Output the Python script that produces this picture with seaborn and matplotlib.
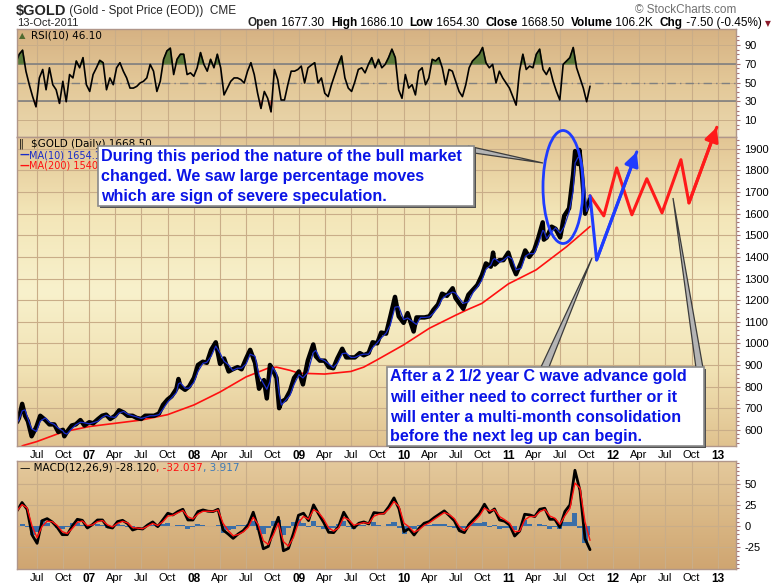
import numpy as np
import pandas as pd
import matplotlib
matplotlib.use("Agg")
import matplotlib.pyplot as plt
import matplotlib.dates as mdates
from matplotlib.colors import LinearSegmentedColormap
from matplotlib.patches import Rectangle, Polygon, Ellipse
import seaborn as sns

# ---- data ----
price_dates = [
    "2006-04-24", "2006-05-01", "2006-05-12", "2006-05-22", "2006-06-01", "2006-06-14",
    "2006-07-01", "2006-07-14", "2006-08-01", "2006-08-15", "2006-09-01", "2006-09-15",
    "2006-10-01", "2006-10-06", "2006-10-15", "2006-11-01", "2006-11-15", "2006-12-01",
    "2006-12-15", "2007-01-01", "2007-01-15", "2007-02-01", "2007-02-15", "2007-03-01",
    "2007-03-15", "2007-04-01", "2007-04-15", "2007-05-01", "2007-05-15", "2007-06-01",
    "2007-06-15", "2007-07-01", "2007-07-15", "2007-08-01", "2007-08-15", "2007-09-01",
    "2007-09-15", "2007-10-01", "2007-10-15", "2007-11-01", "2007-11-08", "2007-11-15",
    "2007-12-01", "2007-12-15", "2008-01-01", "2008-01-15", "2008-02-01", "2008-02-15",
    "2008-03-01", "2008-03-17", "2008-04-01", "2008-04-15", "2008-05-01", "2008-05-15",
    "2008-06-01", "2008-06-15", "2008-07-01", "2008-07-15", "2008-08-01", "2008-08-15",
    "2008-09-01", "2008-09-11", "2008-09-22", "2008-10-01", "2008-10-15", "2008-10-24",
    "2008-11-01", "2008-11-15", "2008-12-01", "2008-12-15", "2009-01-01", "2009-01-15",
    "2009-02-01", "2009-02-20", "2009-03-01", "2009-03-15", "2009-04-01", "2009-04-15",
    "2009-05-01", "2009-05-15", "2009-06-01", "2009-06-15", "2009-07-01", "2009-07-15",
    "2009-08-01", "2009-08-15", "2009-09-01", "2009-09-15", "2009-10-01", "2009-10-15",
    "2009-11-01", "2009-11-15", "2009-12-02", "2009-12-15", "2010-01-01", "2010-01-15",
    "2010-02-05", "2010-02-15", "2010-03-01", "2010-03-15", "2010-04-01", "2010-04-15",
    "2010-05-01", "2010-05-15", "2010-06-01", "2010-06-21", "2010-07-01", "2010-07-28",
    "2010-08-15", "2010-09-01", "2010-09-15", "2010-10-01", "2010-10-15", "2010-11-01",
    "2010-11-09", "2010-11-15", "2010-12-01", "2010-12-15", "2011-01-01", "2011-01-15",
    "2011-01-28", "2011-02-15", "2011-03-01", "2011-03-15", "2011-04-01", "2011-04-15",
    "2011-05-01", "2011-05-05", "2011-05-15", "2011-06-01", "2011-06-15", "2011-07-01",
    "2011-07-15", "2011-08-01", "2011-08-15", "2011-08-22", "2011-09-01", "2011-09-06",
    "2011-09-15", "2011-09-26", "2011-10-01", "2011-10-13",
]
price_close = [
    635, 655, 720, 665, 640, 570,
    615, 665, 645, 625, 625, 590,
    600, 570, 590, 620, 625, 645,
    620, 635, 630, 650, 665, 670,
    650, 665, 690, 680, 665, 665,
    655, 650, 665, 665, 665, 675,
    715, 740, 755, 790, 835, 800,
    785, 800, 840, 900, 915, 910,
    970, 1005, 905, 930, 870, 880,
    890, 880, 930, 970, 910, 790,
    830, 745, 900, 880, 840, 700,
    730, 740, 780, 840, 870, 810,
    920, 995, 940, 920, 920, 890,
    885, 930, 975, 935, 935, 935,
    955, 945, 955, 1005, 1000, 1050,
    1045, 1120, 1215, 1125, 1095, 1140,
    1055, 1120, 1120, 1120, 1125, 1155,
    1180, 1230, 1220, 1255, 1210, 1160,
    1225, 1250, 1270, 1315, 1370, 1355,
    1420, 1365, 1385, 1385, 1420, 1360,
    1320, 1375, 1430, 1400, 1430, 1485,
    1560, 1480, 1490, 1540, 1530, 1490,
    1590, 1625, 1780, 1890, 1830, 1895,
    1780, 1600, 1620, 1668.5,
]

ma200_dates = [
    "2006-04-24", "2006-05-15", "2006-07-01", "2006-10-01", "2007-01-01", "2007-04-01",
    "2007-07-01", "2007-10-01", "2008-01-01", "2008-04-01", "2008-07-01", "2008-09-15",
    "2008-10-15", "2008-12-01", "2009-01-01", "2009-04-01", "2009-07-01", "2009-08-15",
    "2009-10-01", "2010-01-01", "2010-04-01", "2010-07-01", "2010-08-10", "2010-10-01",
    "2011-01-01", "2011-04-08", "2011-07-23", "2011-10-13",
]
ma200_values = [
    510, 527, 545, 590, 615, 630,
    645, 670, 715, 775, 845, 885,
    890, 875, 862, 858, 870, 890,
    924, 993, 1070, 1130, 1155, 1185,
    1275, 1340, 1447, 1540.7,
]

rsi_values = [
    71.1, 80.1, 84.4, 62.1, 47.7, 35.0, 24.2, 54.9, 63.9, 42.3,
    65.7, 47.7, 42.3, 27.8, 51.3, 29.6, 58.5, 54.9, 72.9, 65.7,
    76.5, 47.7, 40.5, 58.5, 65.7, 73.6, 71.1, 42.3, 54.9, 47.7,
    65.7, 71.1, 62.1, 54.9, 44.1, 44.1, 45.9, 49.5, 51.3, 54.9,
    69.3, 62.1, 40.5, 51.3, 74.7, 83.7, 86.6, 58.5, 74.7, 80.1,
    80.1, 58.5, 60.3, 56.7, 65.7, 81.9, 69.3, 62.1, 74.7, 65.7,
    80.1, 65.7, 36.8, 44.1, 51.3, 54.9, 54.9, 53.1, 49.5, 62.1,
    71.1, 58.5, 38.6, 22.4, 40.5, 33.2, 18.8, 63.9, 53.1, 31.4,
    31.4, 47.7, 62.1, 62.1, 63.9, 67.5, 49.5, 65.7, 68.6, 71.1,
    49.5, 54.9, 38.6, 35.0, 47.7, 58.5, 69.3, 78.3, 54.9, 44.1,
    40.5, 51.3, 63.9, 65.7, 60.3, 69.3, 76.5, 65.7, 74.7, 65.7,
    69.3, 76.5, 85.5, 76.5, 42.3, 33.2, 58.5, 44.1, 47.7, 36.8,
    62.1, 65.7, 47.7, 54.9, 74.7, 72.9, 76.5, 65.7, 47.7, 63.9,
    62.1, 51.3, 40.5, 35.0, 47.7, 65.7, 72.9, 76.5, 80.1, 87.3,
    71.1, 65.7, 69.3, 49.5, 62.1, 54.9, 49.5, 44.1, 35.0, 26.0,
    62.1, 80.1, 63.9, 67.5, 65.7, 80.1, 85.5, 63.9, 58.5, 65.7,
    51.3, 40.5, 31.4, 69.3, 72.9, 76.5, 87.3, 65.7, 54.9, 44.1,
    29.6, 46.1,
]

macd_values = [
    17.9, 27.8, 19.8, -10.7, -20.6, 6.3, 8.7, 4.8, -1.6, -10.3,
    -10.3, 0.0, 7.9, 6.7, -2.4, 1.6, 7.1, 7.1, -1.2, -2.4,
    5.2, 6.7, 2.8, -4.8, -2.8, -3.6, 1.2, 4.8, -0.8, 7.1,
    15.1, 13.1, 17.1, 19.8, 7.1, 7.1, 17.1, 19.0, 17.5, 17.1,
    19.8, -4.8, -9.5, -14.7, -9.5, -5.6, 1.2, 16.3, -2.8, -27.0,
    -24.2, -4.8, 10.3, -29.4, -26.6, -8.7, 12.7, 15.1, 6.3, 25.0,
    14.3, 4.4, -7.5, -7.9, -0.4, 16.3, 6.3, -2.4, 3.2, 4.8,
    2.4, 15.9, 15.1, 15.1, 23.0, 33.3, 20.2, -6.7, -3.2, -10.7,
    -2.8, 3.2, 5.2, 9.9, 13.9, 17.9, 12.3, 6.3, -5.6, -7.9,
    2.4, 8.7, 15.1, 25.8, 15.9, 20.2, 7.1, 5.6, 1.2, -11.9,
    -6.0, 13.9, 13.1, 11.1, 19.8, 21.0, 7.9, 7.9, -1.6, 17.1,
    25.0, 66.0, 42.0, -15.0, -28.1,
]

# projected paths drawn by hand on the chart
red_path_dates = ["2011-10-13", "2011-11-30", "2012-01-14", "2012-03-07", "2012-04-28",
                  "2012-06-20", "2012-08-25", "2012-09-22", "2012-12-28"]
red_path_prices = [1683, 1590, 1812, 1595, 1762, 1604, 1850, 1650, 2000]
blue_path_dates = ["2011-10-13", "2011-11-05", "2012-03-24"]
blue_path_prices = [1683, 1386, 1886]

# ---- frames ----
price = pd.DataFrame({"date": pd.to_datetime(price_dates), "close": price_close})
price["ma10"] = price["close"].rolling(2, min_periods=1).mean()
ma200 = pd.DataFrame({"date": pd.to_datetime(ma200_dates), "ma": ma200_values})
rsi = pd.DataFrame({"date": pd.date_range("2006-04-20", "2011-10-13", periods=len(rsi_values)),
                    "rsi": rsi_values})
macd = pd.DataFrame({"date": pd.date_range("2006-04-24", "2011-10-13", periods=len(macd_values)),
                     "macd": macd_values})
macd["signal"] = macd["macd"].ewm(span=2).mean()
macd["hist"] = macd["macd"] - macd["signal"]

sns.set_theme(style="white")
plt.rcParams["font.family"] = ["Liberation Sans", "DejaVu Sans"]
plt.rcParams["axes.unicode_minus"] = False

W, H = 780, 586
fig = plt.figure(figsize=(7.8, 5.86), dpi=100)


def fx(x):
    return x / W


def fy(y):
    return 1 - y / H


L, R = 17, 736
ax_rsi = fig.add_axes([fx(L), fy(137), fx(R) - fx(L), fy(29) - fy(137)])
ax_px = fig.add_axes([fx(L), fy(446), fx(R) - fx(L), fy(137) - fy(446)], sharex=ax_rsi)
ax_macd = fig.add_axes([fx(L), fy(569), fx(R) - fx(L), fy(461) - fy(569)], sharex=ax_rsi)


def gradient(ax, colors):
    cmap = LinearSegmentedColormap.from_list("bg", colors)
    ax.imshow(np.linspace(0, 1, 256).reshape(-1, 1), cmap=cmap, aspect="auto",
              extent=[0, 1, 0, 1], transform=ax.transAxes, zorder=0)


gradient(ax_rsi, ["#d6b283", "#e3c898", "#ead7ad"])
gradient(ax_px, ["#e2c594", "#f3e6b8", "#f8f1cc", "#f1e2b4", "#e0c28f"])
gradient(ax_macd, ["#e4c99c", "#dab886", "#cfa571"])

grid_c = "#c9ad88"
for ax in (ax_rsi, ax_px, ax_macd):
    ax.set_axisbelow(True)
    for s in ax.spines.values():
        s.set_color("#b0968a")
        s.set_linewidth(1.0)
    ax.yaxis.tick_right()
    ax.tick_params(axis="y", which="both", direction="out", colors="#a87070",
                   labelcolor="black", labelsize=8, pad=3, length=3, width=0.8)
    ax.tick_params(axis="y", which="minor", length=2)
    ax.tick_params(axis="x", length=0, labelsize=8, pad=3, labelcolor="black")

# ---- RSI ----
sns.lineplot(data=rsi, x="date", y="rsi", ax=ax_rsi, color="black", linewidth=1.2)
r = rsi["rsi"].to_numpy()
ax_rsi.fill_between(rsi["date"], r, 70, where=r > 70, interpolate=True, color="#5b7a3a", zorder=1.5)
ax_rsi.fill_between(rsi["date"], r, 30, where=r < 30, interpolate=True, color="#c05a50", zorder=1.5)
ax_rsi.axhline(70, color="#808080", lw=1.2, zorder=1)
ax_rsi.axhline(30, color="#808080", lw=1.2, zorder=1)
ax_rsi.axhline(50, color="#808080", lw=1.0, ls=(0, (6, 3, 1, 3)), zorder=1)
ax_rsi.set_ylim(-8, 107)
ax_rsi.set_yticks([10, 30, 50, 70, 90])
ax_rsi.set_yticks(np.arange(0, 101, 5), minor=True)
ax_rsi.grid(True, axis="y", which="major", color=grid_c, lw=0.7)
ax_rsi.grid(True, axis="x", color=grid_c, lw=0.8)
ax_rsi.tick_params(axis="x", labelbottom=False)

# ---- price ----
sns.lineplot(data=ma200, x="date", y="ma", ax=ax_px, color="#ff1010", linewidth=1.2)
sns.lineplot(data=price, x="date", y="close", ax=ax_px, color="black", linewidth=3.2)
sns.lineplot(data=price, x="date", y="ma10", ax=ax_px, color="#1a2cc8", linewidth=0.9)

red_d = mdates.date2num(pd.to_datetime(red_path_dates))
blue_d = mdates.date2num(pd.to_datetime(blue_path_dates))
ax_px.plot(red_d, red_path_prices, color="#ff1a1a", lw=2.2, clip_on=False, zorder=5)
ax_px.plot(blue_d, blue_path_prices, color="#1f3cff", lw=2.2, clip_on=False, zorder=5)
for d, p, c in ((red_d, red_path_prices, "#ff1a1a"), (blue_d, blue_path_prices, "#1f3cff")):
    ax_px.annotate("", xy=(d[-1], p[-1]), xytext=(d[-2], p[-2]), annotation_clip=False,
                   arrowprops=dict(arrowstyle="-|>,head_length=0.7,head_width=0.35",
                                   color=c, lw=2.2, shrinkA=0, shrinkB=0), zorder=6)

ax_px.set_ylim(525, 1955)
ax_px.set_yticks(np.arange(600, 1901, 100))
ax_px.set_yticks(np.arange(540, 1951, 20), minor=True)
ax_px.grid(True, axis="both", which="major", color=grid_c, lw=0.8)

# ---- MACD ----
ax_macd.fill_between(macd["date"], macd["hist"], 0, step="mid", color="#3a6ea8", lw=0, zorder=1.5)
sns.lineplot(data=macd, x="date", y="macd", ax=ax_macd, color="black", linewidth=2.0)
sns.lineplot(data=macd, x="date", y="signal", ax=ax_macd, color="#ff1010", linewidth=1.0)
ax_macd.set_ylim(-51, 77)
ax_macd.set_yticks([-25, 0, 25, 50])
ax_macd.set_yticks(np.arange(-50, 76, 5), minor=True)
ax_macd.grid(True, axis="both", which="major", color=grid_c, lw=0.8)

for ax in (ax_rsi, ax_px, ax_macd):
    ax.set_xlabel("")
    ax.set_ylabel("")

# x ticks: quarters, years in bold
qticks = pd.date_range("2006-07-01", "2013-01-01", freq="QS")
qlabels = [d.strftime("%y") if d.month == 1 else d.strftime("%b") for d in qticks]
ax_px.set_xticks(qticks)
ax_px.set_xticklabels(qlabels)
ax_px.set_xlim(pd.Timestamp("2006-04-24"), pd.Timestamp("2013-03-05"))
for ax in (ax_px, ax_macd):
    ax.tick_params(axis="x", labelbottom=True)
    for lab, d in zip(ax.get_xticklabels(), qticks):
        lab.set_fontsize(8)
        if d.month == 1:
            lab.set_fontweight("bold")
            lab.set_fontsize(8.5)

# ---- header ----
t = fig.text(fx(16), fy(11), "$GOLD", fontsize=10.5, fontweight="bold", va="center")
ax_rsi.annotate(" (Gold - Spot Price (EOD))  CME", xy=(1, 0.5), xycoords=t, va="center",
                fontsize=8.5, annotation_clip=False)
fig.text(fx(17), fy(23), "13-Oct-2011", fontsize=8, va="center")
fig.text(fx(736), fy(10), "\u00a9 StockCharts.com", fontsize=8.5, color="#707070",
         ha="right", va="center")

parts = [("Open", "bold", "black"), (" 1677.30  ", "normal", "black"),
         ("High", "bold", "black"), (" 1686.10  ", "normal", "black"),
         ("Low", "bold", "black"), (" 1654.30  ", "normal", "black"),
         ("Close", "bold", "black"), (" 1668.50  ", "normal", "black"),
         ("Volume", "bold", "black"), (" 106.2K  ", "normal", "black"),
         ("Chg", "bold", "black"), (" -7.50 (-0.45%) ", "normal", "black")]
t = fig.text(fx(248), fy(23), parts[0][0], fontsize=8.5, fontweight=parts[0][1], va="center")
for s, w, c in parts[1:]:
    t = ax_rsi.annotate(s, xy=(1, 0), xycoords=t, va="bottom", ha="left", fontsize=8.5,
                        fontweight=w, color=c, annotation_clip=False)
ax_rsi.annotate("\u25bc", xy=(1, 0.1), xycoords=t, va="bottom", ha="left", fontsize=5.5,
                color="#8b1a2b", family="DejaVu Sans", annotation_clip=False)

# ---- panel legends ----
leg = dict(family="DejaVu Sans", fontsize=7.5, va="center")
fig.text(fx(19), fy(36), "\u25b2", color="#4f6b30", fontsize=6, family="DejaVu Sans", va="center")
fig.text(fx(31), fy(36), "RSI(10) 46.10", color="black", **leg)
fig.text(fx(19), fy(144), "\u2016", color="black", fontsize=7, family="DejaVu Sans", va="center")
fig.text(fx(31), fy(144), "$GOLD (Daily) 1668.50", color="black", **leg)
fig.text(fx(19), fy(155), "\u2014", color="#1a2cc8", fontsize=7, family="DejaVu Sans",
         fontweight="bold", va="center")
fig.text(fx(29), fy(155), "MA(10) 1654.10", color="#1a2cc8", family="DejaVu Sans",
         fontsize=7, va="center")
fig.text(fx(19), fy(166), "\u2014", color="#ff1010", fontsize=7, family="DejaVu Sans",
         fontweight="bold", va="center")
fig.text(fx(29), fy(166), "MA(200) 1540.70", color="#ff1010", family="DejaVu Sans",
         fontsize=7, va="center")
t = fig.text(fx(20), fy(468), "\u2014 MACD(12,26,9) -28.120", color="black", **leg)
t = ax_macd.annotate(", -32.037", xy=(1, 0), xycoords=t, va="bottom", color="#ff1010",
                     family="DejaVu Sans", fontsize=7.5, annotation_clip=False)
ax_macd.annotate(", 3.917", xy=(1, 0), xycoords=t, va="bottom", color="#3d7ab8",
                 family="DejaVu Sans", fontsize=7.5, annotation_clip=False)

# ---- annotations: ellipse, callout boxes and pointers ----
fig.add_artist(Ellipse((fx(563), fy(187)), 40 / W, 113 / H, transform=fig.transFigure,
                       fill=False, ec="#1f3cff", lw=2.0, zorder=5))


def pointer(pts):
    poly = Polygon([(fx(x), fy(y)) for x, y in pts], closed=True, transform=fig.transFigure,
                   fc="#b4b4b4", ec="#3c3c3c", lw=0.9, zorder=6)
    fig.add_artist(poly)


pointer([(468, 146), (474, 153), (543, 163)])
pointer([(541, 367), (549, 367), (592, 258)])
pointer([(696, 368), (703, 368), (673, 198)])


def callout(x0, y0, x1, y1, lines, y_first, step):
    fig.add_artist(Rectangle((fx(x0 + 2), fy(y1 + 2)), (x1 - x0) / W, (y1 - y0) / H,
                             transform=fig.transFigure, fc="#505050", ec="none", zorder=7))
    fig.add_artist(Rectangle((fx(x0), fy(y1)), (x1 - x0) / W, (y1 - y0) / H,
                             transform=fig.transFigure, fc="white", ec="#8a8a8a",
                             lw=1.2, zorder=8))
    for i, line in enumerate(lines):
        fig.text(fx(x0 + 3), fy(y_first + i * step), line, color="#0a14e6", fontsize=11.6,
                 fontweight="bold", va="center", zorder=9)


callout(98, 146, 474, 206,
        ["During this period the nature of the bull market",
         "changed. We saw large percentage moves",
         "which are sign of severe speculation."], 157, 20)
callout(387, 367, 704, 446,
        ["After a 2 1/2 year C wave advance gold",
         "will either need to correct further or it",
         "will enter a multi-month consolidation",
         "before the next leg up can begin."], 377, 20)

fig.savefig("out.png", dpi=100, facecolor="white")
